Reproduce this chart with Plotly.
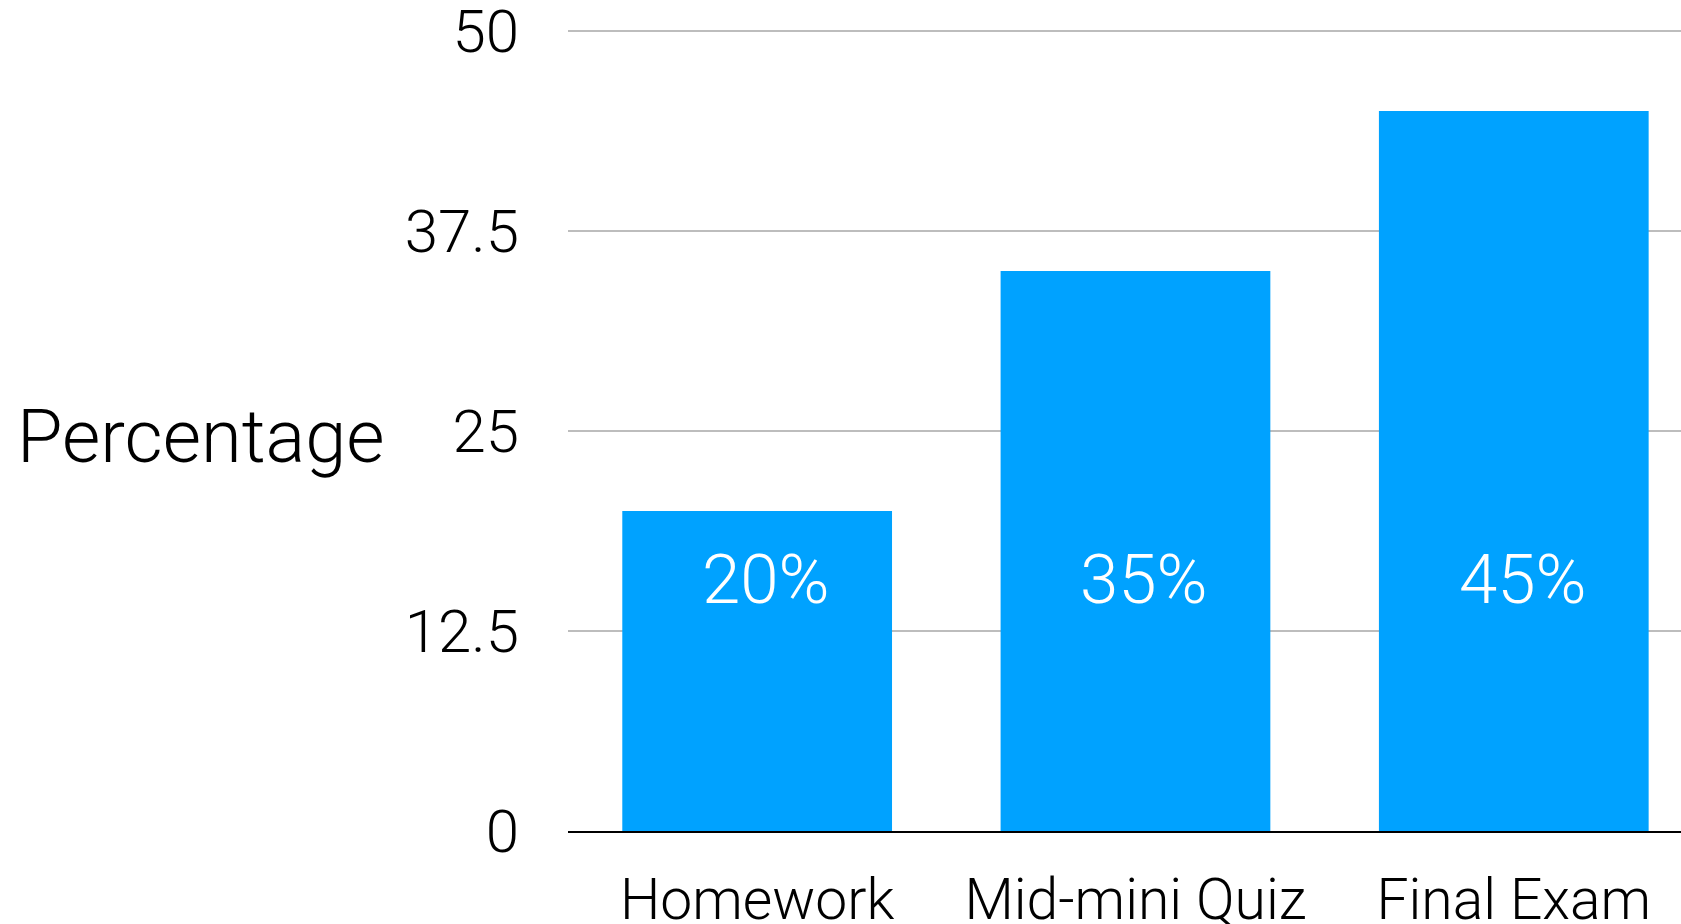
import plotly.graph_objects as go

categories = ["Homework", "Mid-mini Quiz", "Final Exam"]
values = [20, 35, 45]
bar_labels = ["20%", "35%", "45%"]
tick_vals = [0, 12.5, 25, 37.5, 50]
tick_text = ["0", "12.5", "25", "37.5", "50"]
label_y = 15.7

FONT = "Roboto"

fig = go.Figure()
fig.add_trace(go.Bar(
    x=[0, 1, 2], y=values,
    marker=dict(color="#00A2FF", line=dict(width=0)),
    width=0.713,
    hoverinfo="skip",
))

for i, lab in enumerate(bar_labels):
    fig.add_annotation(x=i, y=label_y, text=lab, showarrow=False,
                       xshift=9,
                       font=dict(family=FONT, size=69, color="white", weight=300))

fig.add_annotation(x=0, y=25, xref="paper", yref="y", text="Percentage",
                   showarrow=False, xanchor="right", yanchor="middle",
                   xshift=-181, yshift=-5,
                   font=dict(family=FONT, size=74, color="black", weight=300))

fig.update_layout(
    width=1681, height=924,
    margin=dict(l=568, r=0, t=23, b=93, pad=0, autoexpand=False),
    paper_bgcolor="white", plot_bgcolor="white",
    showlegend=False,
    xaxis=dict(
        range=[-0.5, 2.442],
        tickvals=[0, 1, 2], ticktext=categories,
        showgrid=False, zeroline=False, automargin=False,
        showline=True, linecolor="black", linewidth=2,
        ticks="", ticklabelstandoff=18, ticklabeloverflow="allow",
        tickfont=dict(family=FONT, size=57, color="black", weight=300),
    ),
    yaxis=dict(
        range=[0, 50.5],
        tickvals=tick_vals, ticktext=tick_text,
        showgrid=True, gridcolor="#BDBDBD", gridwidth=2,
        zeroline=False, showline=False, ticks="", automargin=False,
        ticklabelstandoff=48, ticklabeloverflow="allow",
        tickfont=dict(family=FONT, size=60, color="black", weight=300),
    ),
)

fig.write_html(
    "out.html",
    config={"displayModeBar": False},
    post_script="document.body.style.margin='0';document.body.style.overflow='hidden';",
)
